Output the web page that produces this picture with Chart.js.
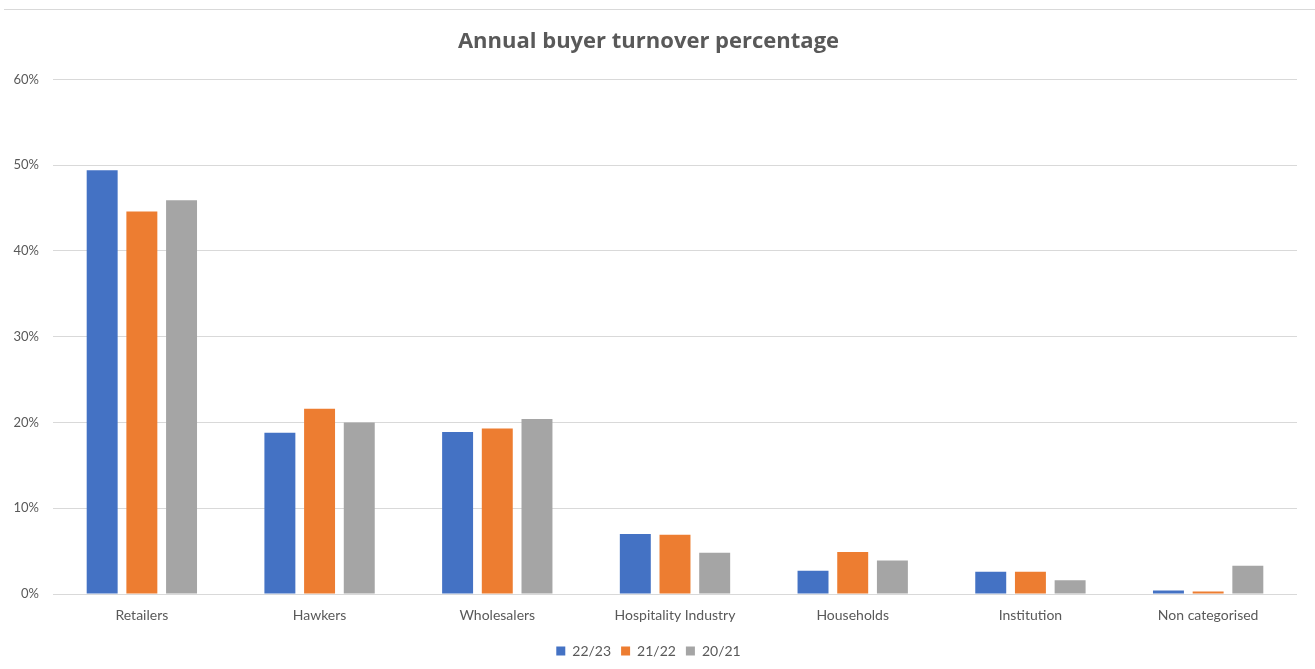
<!DOCTYPE html>
<html>
<head>
<meta charset="utf-8">
<title>Annual buyer turnover percentage</title>
<script src="https://cdn.jsdelivr.net/npm/chart.js@4.4.0/dist/chart.umd.min.js"></script>
<style>
  html, body { margin: 0; padding: 0; background: #fff; }
  #wrap { position: relative; width: 1315px; height: 669px; }
  #topline { position: absolute; left: 4px; right: 0; top: 9px; height: 0; border-top: 1px solid #d9d9d9; }
</style>
</head>
<body>
<div id="wrap">
  <div id="topline"></div>
  <canvas id="turnover-chart" width="1315" height="669"></canvas>
</div>
<script>
const categories = ['Retailers', 'Hawkers', 'Wholesalers', 'Hospitality Industry', 'Households', 'Institution', 'Non categorised'];
const seriesNames = ['22/23', '21/22', '20/21'];
const year2223 = [49.4, 18.8, 18.9, 7.0, 2.7, 2.6, 0.4];
const year2122 = [44.6, 21.6, 19.3, 6.9, 4.9, 2.6, 0.3];
const year2021 = [45.9, 20.0, 20.4, 4.8, 3.9, 1.6, 3.3];
const yTicks = [0, 10, 20, 30, 40, 50, 60];

const colours = ['#4472C4', '#ED7D31', '#A5A5A5'];
const textColour = '#595959';
const fontFamily = 'Lato, "Open Sans", sans-serif';

let ctx = document.getElementById('turnover-chart').getContext('2d');

let turnoverChart = new Chart(ctx, {
  type: 'bar',
  data: {
    labels: categories,
    datasets: [year2223, year2122, year2021].map(function (values, i) {
      return {
        label: seriesNames[i],
        data: values,
        backgroundColor: colours[i],
        categoryPercentage: 0.67,
        barPercentage: 0.78
      };
    })
  },
  options: {
    responsive: false,
    animation: false,
    layout: { padding: { left: 0, right: 18, top: 0, bottom: 1 } },
    scales: {
      x: {
        grid: { display: false },
        border: { display: false },
        ticks: {
          color: textColour,
          font: { family: fontFamily, size: 14 },
          padding: 5,
          maxRotation: 0
        }
      },
      y: {
        min: 0,
        max: 60,
        afterBuildTicks: function (axis) {
          axis.ticks = yTicks.map(function (v) { return { value: v }; });
        },
        afterFit: function (axis) { axis.width = 53; },
        grid: { color: '#d9d9d9', lineWidth: 1, drawTicks: false },
        border: { display: false },
        ticks: {
          color: textColour,
          font: { family: fontFamily, size: 13 },
          padding: 14,
          callback: function (v) { return v + '%'; }
        }
      }
    },
    plugins: {
      title: {
        display: true,
        text: 'Annual buyer turnover percentage',
        color: textColour,
        font: { family: '"Open Sans", Lato, sans-serif', size: 22, weight: 'bold' },
        padding: { top: 29, bottom: 24 }
      },
      legend: {
        position: 'bottom',
        // empty title just adds a little room above the legend items
        title: { display: true, text: ' ', font: { size: 1 }, padding: 2 },
        labels: {
          color: textColour,
          font: { family: fontFamily, size: 14 },
          boxWidth: 9,
          boxHeight: 9,
          padding: 10
        }
      },
      tooltip: { enabled: false }
    }
  }
});
</script>
</body>
</html>
